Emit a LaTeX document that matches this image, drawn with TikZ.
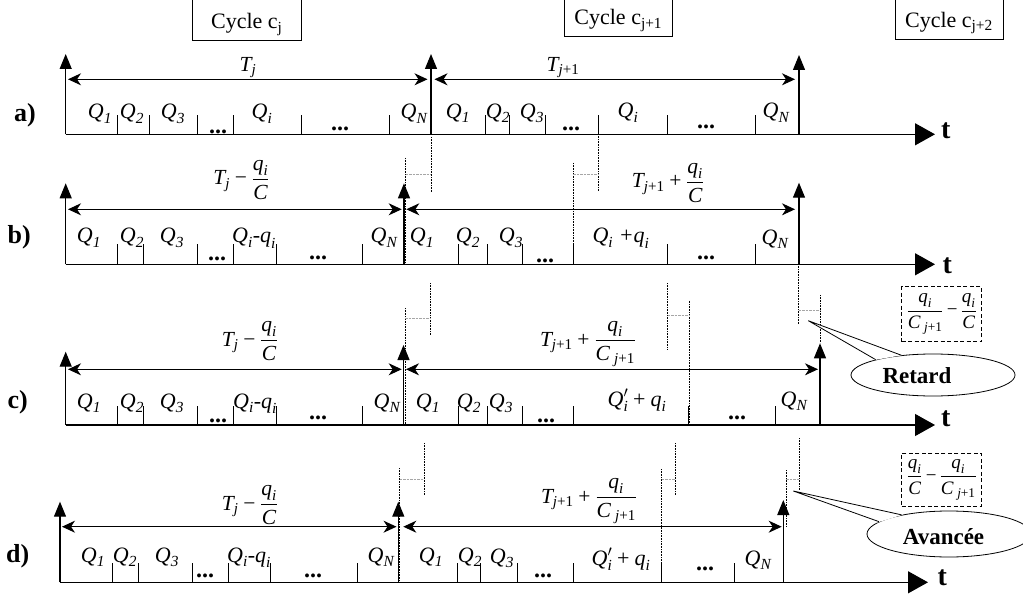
\RequirePackage{fix-cm}
\documentclass[tikz,border=0pt]{standalone}
\usepackage{amsmath}
\usepackage{fontspec}
\setmainfont{Liberation Serif}
\usetikzlibrary{arrows.meta,shapes.geometric}
\newcommand{\vi}[1]{\textit{#1}}
\newcommand{\QQ}[1]{$\vi{Q}_{\vi{#1}}$}
\newcommand{\mminus}{\mathbin{\text{−}}}
\newcommand{\mplus}{\mathbin{\text{+}}}
\newcommand{\jone}{\vi{j}\text{+1}}
\tikzset{
  axis/.style={line width=1.2pt,-{Triangle[length=20pt,width=22pt]}},
  varrow/.style={line width=1.2pt,-{Triangle[length=15pt,width=12pt]}},
  dim/.style={line width=1.1pt,{Stealth[length=13pt,width=12pt,inset=4pt]}-{Stealth[length=13pt,width=12pt,inset=4pt]}},
  tick/.style={line width=0.9pt},
  guide/.style={line width=0.6pt,dash pattern=on 0.8pt off 0.8pt},
  shiftline/.style={line width=0.8pt,black!35,dash pattern=on 2.5pt off 1pt},
  ql/.style={font=\fontsize{22}{25}\selectfont,inner sep=0pt,anchor=base},
  tl/.style={font=\fontsize{21.5}{25}\selectfont,inner sep=0pt,anchor=base},
  dots/.style={font=\fontsize{24}{26}\selectfont\bfseries,inner sep=0pt,anchor=base},
  rowlab/.style={font=\fontsize{26}{28}\selectfont\bfseries,inner sep=0pt,anchor=base west},
  tax/.style={font=\fontsize{28}{30}\selectfont\bfseries,inner sep=0pt,anchor=base west},
  cyc/.style={font=\fontsize{22}{25}\selectfont,inner sep=0pt,anchor=base},
  cybox/.style={line width=0.8pt},
  bubble/.style={ellipse,draw,line width=0.8pt,minimum width=164pt,inner sep=0pt},
  bubtext/.style={font=\fontsize{23}{26}\selectfont\bfseries,inner sep=0pt,anchor=base},
  diffbox/.style={draw,line width=1pt,dash pattern=on 4pt off 2.5pt,minimum width=80pt,inner sep=0pt,font=\fontsize{19}{22}\selectfont},
}
\begin{document}
\begin{tikzpicture}[x=1pt,y=-1pt]
\useasboundingbox (0,0) rectangle (1023,596);
\fill[white] (0,0) rectangle (1023,596);

% ---------- cycle boxes ----------
\draw[cybox] (192.7,-3) rectangle (301,40.7);
\node[cyc] (cj) at (246.8,29) {Cycle c\textsubscript{j}};
\draw[cybox] (564.3,-3) rectangle (672.3,36.7);
\node[cyc] (cj1) at (618.3,25) {Cycle c\textsubscript{j+1}};
\draw[cybox] (895,-3) rectangle (1003.3,39.3);
\node[cyc] (cj2) at (949,27.3) {Cycle c\textsubscript{j+2}};

% ---------- guides (dotted) and shifts ----------
\draw[guide] (431,137) -- (431,192.7);
\draw[guide] (405.5,158) -- (405.5,264.3);
\draw[shiftline] (405.5,174.3) -- (431,174.3);
\draw[guide] (598.7,134.3) -- (598.7,190.7);
\draw[guide] (573.3,163) -- (573.3,264.3);
\draw[shiftline] (573.3,174.3) -- (598.7,174.3);

\draw[guide] (430,283) -- (430,335);
\draw[guide] (405,308) -- (405,425);
\draw[shiftline] (405,318.3) -- (430,318.3);
\draw[guide] (667.7,283) -- (667.7,350);
\draw[guide] (689,300.7) -- (689,425);
\draw[shiftline] (667.7,315) -- (689,315);
\draw[guide] (798.5,264.3) -- (798.5,325);
\draw[guide] (820.5,295) -- (820.5,343);
\draw[shiftline] (798.5,310) -- (820.5,310);

\draw[guide] (424,443) -- (424,495);
\draw[guide] (399.5,468) -- (399.5,582.3);
\draw[shiftline] (399.5,479.3) -- (424,479.3);
\draw[guide] (675,443) -- (675,495);
\draw[guide] (661.7,469) -- (661.7,582.3);
\draw[shiftline] (661.7,479) -- (675,479);
\draw[guide] (799,438) -- (799,490);
\draw[guide] (786,470) -- (786,526.7);
\draw[shiftline] (786,479) -- (799,479);

% ================= ROW a =================
\node[rowlab] (la) at (14,121.5) {a)};
\coordinate (A0) at (65.7,134.3); \coordinate (AE) at (935,134.3);
\foreach \x in {117.3,149,197.7,233.3,301.3,389.3,485.3,509,545,598.7,667.7,755}
  \draw[tick] (\x,134.3) -- (\x,115);
\draw[axis] (A0) -- (AE);
\node[tax] (ta) at (941,138.3) {t};
\coordinate (A0t) at (65.7,54);
\coordinate (A1) at (431,134.3); \coordinate (A1t) at (431,54);
\coordinate (A2) at (799,134.3); \coordinate (A2t) at (799,55);
\draw[varrow] (A0) -- (A0t);
\draw[varrow] (A1) -- (A1t);
\draw[varrow] (A2) -- (A2t);
\coordinate (Ad0) at (68,79.3); \coordinate (Ad1) at (427.5,79.3);
\coordinate (Ad2) at (434.5,79.3); \coordinate (Ad3) at (795,79.3);
\draw[dim] (Ad0) -- (Ad1);
\draw[dim] (Ad2) -- (Ad3);
\node[tl] (aT1) at (248,71.7) {$\vi{T}_{\vi{j}}$};
\node[tl] (aT2) at (563,71.7) {$\vi{T}_{\jone}$};
\node[ql] (aq1) at (100,119) {\QQ{1}};
\node[ql] (aq2) at (132,119) {\QQ{2}};
\node[ql] (aq3) at (173,119) {\QQ{3}};
\node[dots] (ad1) at (218,134) {...};
\node[ql] (aqi) at (262,119) {\QQ{i}};
\node[dots] (ad2) at (340,130.5) {...};
\node[ql] (aqn) at (414,119) {\QQ{N}};
\node[ql] (aq1b) at (458,118.5) {\QQ{1}};
\node[ql] (aq2b) at (498,118.5) {\QQ{2}};
\node[ql] (aq3b) at (532,118.5) {\QQ{3}};
\node[dots] (ad3) at (571,130.5) {...};
\node[ql] (aqib) at (628,118) {\QQ{i}};
\node[dots] (ad4) at (706,128.5) {...};
\node[ql] (aqnb) at (776,118) {\QQ{N}};

% ================= ROW b =================
\node[rowlab] (lb) at (7.5,243.5) {b)};
\coordinate (B0) at (65.7,264.3); \coordinate (BE) at (935,264.3);
\foreach \x in {117.3,143.3,197.7,233.3,276.3,362.7,458,487.3,522.7,573.3,667.7,755}
  \draw[tick] (\x,264.3) -- (\x,244.5);
\draw[axis] (B0) -- (BE);
\node[tax] (tb) at (942.5,273) {t};
\coordinate (B0t) at (65.7,183.3);
\coordinate (B1) at (404,264.3); \coordinate (B1t) at (404,183.3);
\coordinate (B2) at (799,264.3); \coordinate (B2t) at (799,182.7);
\draw[varrow] (B0) -- (B0t);
\draw[varrow] (B1) -- (B1t);
\draw[varrow] (B2) -- (B2t);
\coordinate (Bd0) at (68,209.3); \coordinate (Bd1) at (401.7,209.3);
\coordinate (Bd2) at (406.3,209.3); \coordinate (Bd3) at (795,209.3);
\draw[dim] (Bd0) -- (Bd1);
\draw[dim] (Bd2) -- (Bd3);
\node[tl] (bT1) at (241.5,185) {$\vi{T}_{\vi{j}}\mminus\dfrac{\vi{q}_{\vi{i}}}{\vi{C}}$};
\node[tl] (bT2) at (668,188) {$\vi{T}_{\jone}\mplus\dfrac{\vi{q}_{\vi{i}}}{\vi{C}}$};
\node[ql] (bq1) at (89,243) {\QQ{1}};
\node[ql] (bq2) at (132,243) {\QQ{2}};
\node[ql] (bq3) at (172,243) {\QQ{3}};
\node[dots] (bd1) at (217,260.5) {...};
\node[ql] (bqi) at (254,243) {\QQ{i}\vi{-}$\vi{q}_{\vi{i}}$};
\node[dots] (bd2) at (318,259) {...};
\node[ql] (bqn) at (384,243) {\QQ{N}};
\node[ql] (bq1b) at (422,243) {\QQ{1}};
\node[ql] (bq2b) at (468,243) {\QQ{2}};
\node[ql] (bq3b) at (511,243) {\QQ{3}};
\node[dots] (bd3) at (545,262) {...};
\node[ql] (bqib) at (621,243) {\QQ{i} \vi{+}$\vi{q}_{\vi{i}}$};
\node[dots] (bd4) at (706,259) {...};
\node[ql] (bqnb) at (775,244) {\QQ{N}};

% ================= ROW c =================
\node[rowlab] (lc) at (7.5,408.5) {c)};
\coordinate (C0) at (65.7,425); \coordinate (CE) at (935,425);
\foreach \x in {117.3,143.3,197.7,233.3,276.3,362.7,458,487.3,522.7,573.3,688.3,775}
  \draw[tick] (\x,425) -- (\x,405.5);
\draw[axis] (C0) -- (CE);
\node[tax] (tc) at (941,426) {t};
\coordinate (C0t) at (65.7,351.7);
\coordinate (C1) at (403.5,425); \coordinate (C1t) at (403.5,345);
\coordinate (C2) at (820,425); \coordinate (C2t) at (820,343.3);
\draw[varrow] (C0) -- (C0t);
\draw[varrow] (C1) -- (C1t);
\draw[varrow] (C2) -- (C2t);
\coordinate (Cd0) at (68,369.3); \coordinate (Cd1) at (401.7,369.3);
\coordinate (Cd2) at (406,369.3); \coordinate (Cd3) at (818,369.3);
\draw[dim] (Cd0) -- (Cd1);
\draw[dim] (Cd2) -- (Cd3);
\node[tl] (cT1) at (250,346) {$\vi{T}_{\vi{j}}\mminus\dfrac{\vi{q}_{\vi{i}}}{\vi{C}}$};
\node[tl] (cT2) at (588,346) {$\vi{T}_{\jone}\mplus\dfrac{\vi{q}_{\vi{i}}}{\vi{C}_{\;\jone}}$};
\node[ql] (cq1) at (89,408) {\QQ{1}};
\node[ql] (cq2) at (132,408) {\QQ{2}};
\node[ql] (cq3) at (172,408) {\QQ{3}};
\node[dots] (cd1) at (218,422) {...};
\node[ql] (cqi) at (255,408) {\QQ{i}\vi{-}$\vi{q}_{\vi{i}}$};
\node[dots] (cd2) at (318,419) {...};
\node[ql] (cqn) at (387,408) {\QQ{N}};
\node[ql] (cq1b) at (428,408) {\QQ{1}};
\node[ql] (cq2b) at (469,408) {\QQ{2}};
\node[ql] (cq3b) at (501,408) {\QQ{3}};
\node[dots] (cd3) at (546,422) {...};
\node[ql] (cqib) at (637,406) {$\vi{Q}'_{\vi{i}}\mplus\vi{q}_{\vi{i}}$};
\node[dots] (cd4) at (737,419) {...};
\node[ql] (cqnb) at (794,406) {\QQ{N}};

% ================= ROW d =================
\node[rowlab] (ld) at (6,562) {d)};
\coordinate (D0) at (60,582.3); \coordinate (DE) at (928,582.3);
\foreach \x in {112.3,138.3,192.7,228.3,270.3,357.7,457.7,480.7,517.3,573.3,661.7,734.3}
  \draw[tick] (\x,582.3) -- (\x,563);
\draw[axis] (D0) -- (DE);
\node[tax] (td) at (937.5,585) {t};
\coordinate (D0t) at (60,501.7);
\coordinate (D1) at (398.3,582.3); \coordinate (D1t) at (398.3,501.7);
\coordinate (D2) at (783.3,582.3); \coordinate (D2t) at (783.3,500);
\draw[varrow] (D0) -- (D0t);
\draw[varrow] (D1) -- (D1t);
\draw[varrow] (D2) -- (D2t);
\coordinate (Dd0) at (62,526.7); \coordinate (Dd1) at (396.5,526.7);
\coordinate (Dd2) at (403.3,526.7); \coordinate (Dd3) at (781.7,526.7);
\draw[dim] (Dd0) -- (Dd1);
\draw[dim] (Dd2) -- (Dd3);
\node[tl] (dT1) at (250,510) {$\vi{T}_{\vi{j}}\mminus\dfrac{\vi{q}_{\vi{i}}}{\vi{C}}$};
\node[tl] (dT2) at (589,503) {$\vi{T}_{\jone}\mplus\dfrac{\vi{q}_{\vi{i}}}{\vi{C}_{\;\jone}}$};
\node[ql] (dq1) at (93,562) {\QQ{1}};
\node[ql] (dq2) at (125,562) {\QQ{2}};
\node[ql] (dq3) at (167,562) {\QQ{3}};
\node[dots] (dd1) at (205,577) {...};
\node[ql] (dqi) at (249,562) {\QQ{i}\vi{-}$\vi{q}_{\vi{i}}$};
\node[dots] (dd2) at (313,577) {...};
\node[ql] (dqn) at (381,562) {\QQ{N}};
\node[ql] (dq1b) at (431,562) {\QQ{1}};
\node[ql] (dq2b) at (470,562) {\QQ{2}};
\node[ql] (dq3b) at (502,563) {\QQ{3}};
\node[dots] (dd3) at (543,577) {...};
\node[ql] (dqib) at (621,565) {$\vi{Q}'_{\vi{i}}\mplus\vi{q}_{\vi{i}}$};
\node[dots] (dd4) at (705,570) {...};
\node[ql] (dqnb) at (758,565) {\QQ{N}};

% ================= difference boxes =================
\node[diffbox,minimum height=55pt] (box1) at (941.7,314.2)
  {$\dfrac{\vi{q}_{\vi{i}}}{\vi{C}_{\;\jone}}\,\text{−}\,\dfrac{\vi{q}_{\vi{i}}}{\vi{C}}$};
\node[diffbox,minimum height=52.7pt] (box2) at (941.7,479.7)
  {$\dfrac{\vi{q}_{\vi{i}}}{\vi{C}}\,\text{−}\,\dfrac{\vi{q}_{\vi{i}}}{\vi{C}_{\;\jone}}$};

% ================= callouts =================
\node[bubble,minimum height=42pt] (ret) at (933,375) {};
\coordinate (rettip) at (808.3,320.7);
\fill[white] (rettip) -- (ret.166) -- (ret.147) -- cycle;
\draw[line width=0.8pt] (ret.165) -- (rettip) -- (ret.148);
\node[bubtext] (rett) at (917,383) {Retard};

\node[bubble,minimum height=46pt] (ava) at (949,534) {};
\coordinate (avatip) at (793.3,491);
\fill[white] (avatip) -- (ava.171) -- (ava.157) -- cycle;
\draw[line width=0.8pt] (ava.170) -- (avatip) -- (ava.158);
\node[bubtext] (avat) at (943.5,544) {Avancée};
\end{tikzpicture}
\end{document}
